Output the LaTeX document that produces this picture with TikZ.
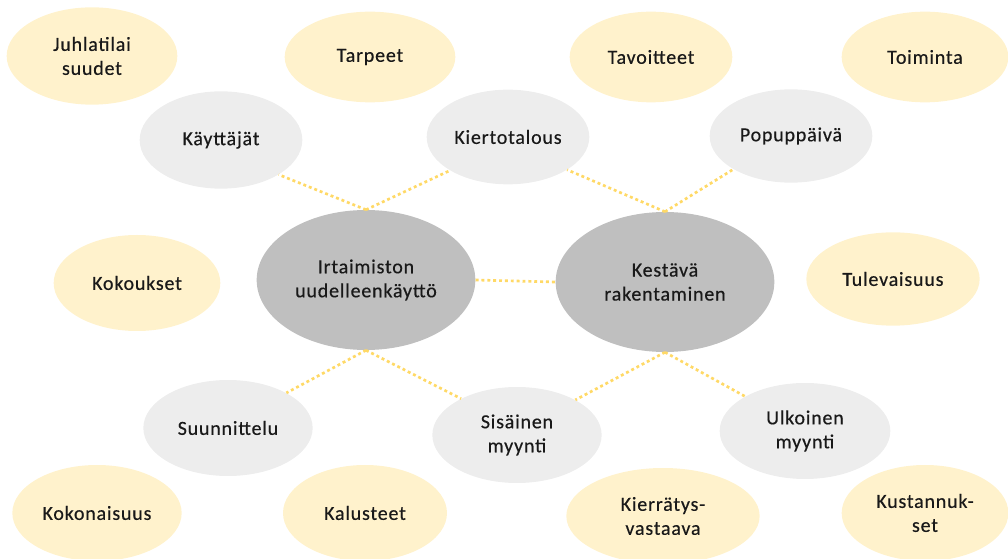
\documentclass[tikz,border=0pt]{standalone}
\usepackage{fontspec}
\setmainfont{Carlito}[LetterSpace=4,FakeBold=0.4]
\definecolor{ylw}{HTML}{FFF2CC}
\definecolor{lgr}{HTML}{EDEDED}
\definecolor{dgr}{HTML}{BFBFBF}
\definecolor{dotc}{HTML}{FFD966}
\tikzset{
  bub/.style={ellipse, inner sep=0pt, align=center, text=black!90, font=\fontsize{15}{18}\selectfont},
  outer/.style={bub, fill=ylw},
  mid/.style={bub, fill=lgr},
  core/.style={bub, fill=dgr, minimum width=164pt, minimum height=105pt},
  link/.style={draw=dotc, line width=2pt, dash pattern=on 2.2pt off 2.2pt}
}
\usetikzlibrary{shapes.geometric}
\begin{document}
\begin{tikzpicture}[x=0.75pt,y=-0.75pt]
\useasboundingbox (0,0) rectangle (1008,559);
\clip (0,0) rectangle (1008,559);
% outer yellow
\node[outer, minimum width=128pt, minimum height=73pt] (juh) at (92,56) {Juhlatilai\\suudet};
\node[outer, minimum width=128pt, minimum height=68pt] (tar) at (370,57) {Tarpeet};
\node[outer, minimum width=122pt, minimum height=68pt] (tav) at (651,57) {Tavoitteet};
\node[outer, minimum width=125pt, minimum height=68pt] (toi) at (925,57) {Toiminta};
\node[outer, minimum width=125pt, minimum height=72pt] (kok) at (137,283) {Kokoukset};
\node[outer, minimum width=130pt, minimum height=70pt] (tul) at (893,279) {Tulevaisuus};
\node[outer, minimum width=127pt, minimum height=72pt] (kon) at (97,513) {Kokonaisuus};
\node[outer, minimum width=123pt, minimum height=72pt] (kal) at (365,513) {Kalusteet};
\node[outer, minimum width=145pt, minimum height=72pt] (kie) at (663,516) {Kierrätys-\\vastaava};
\node[outer, minimum width=125pt, minimum height=72pt] (kus) at (925,513) {Kustannuk-\\set};
% middle gray
\node[mid, minimum width=122pt, minimum height=73pt] (kay) at (221,140) {Käyttäjät};
\node[mid, minimum width=122pt, minimum height=71pt] (kit) at (508,137) {Kiertotalous};
\node[mid, minimum width=122pt, minimum height=70pt] (pop) at (791,136) {Popuppäivä};
\node[mid, minimum width=127pt, minimum height=72pt] (suu) at (228,428) {Suunnittelu};
\node[mid, minimum width=127pt, minimum height=72pt] (sis) at (517,435) {Sisäinen\\myynti};
\node[mid, minimum width=128pt, minimum height=72pt] (ulk) at (805,431) {Ulkoinen\\myynti};
% cores
\node[core] (irt) at (366,280) {Irtaimiston\\uudelleenkäyttö};
\node[core] (kes) at (665,282) {Kestävä\\rakentaminen};
% links
\draw[link] (irt.north) -- (kay.-31);
\draw[link] (irt.north) -- (kit.210);
\draw[link] (kes.north) -- (kit.-29);
\draw[link] (kes.north) -- (pop.210);
\draw[link] (irt.east) -- (kes.west);
\draw[link] (irt.south) -- (suu.31);
\draw[link] (irt.south) -- (sis.147);
\draw[link] (kes.south) -- (sis.31);
\draw[link] (kes.south) -- (ulk.150);
\end{tikzpicture}
\end{document}
